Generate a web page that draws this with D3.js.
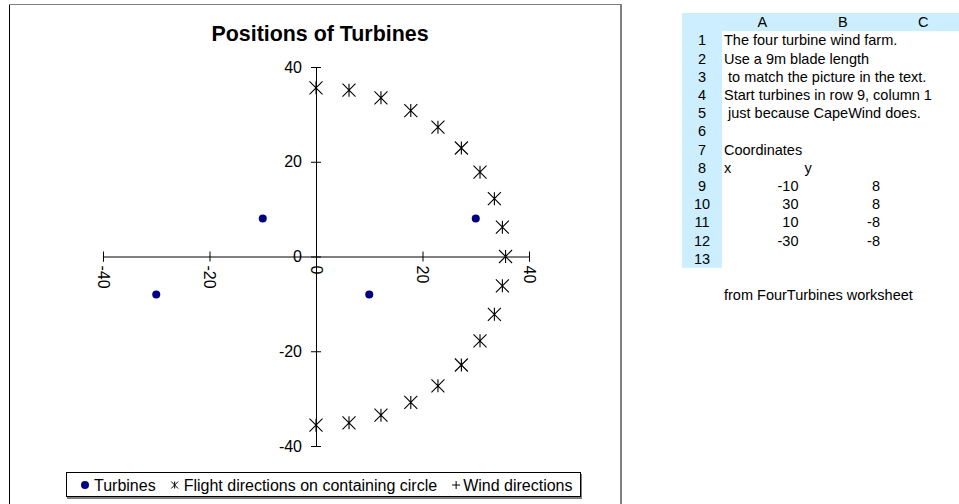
<!DOCTYPE html>
<html>
<head>
<meta charset="utf-8">
<script src="https://cdn.jsdelivr.net/npm/d3@7"></script>
<style>
  body { margin: 0; background: #fff; }
  svg { font-family: Arial, "Liberation Sans", sans-serif; }
</style>
</head>
<body>
<div id="chart"></div>
<script>
// Positions of Turbines - scatter + worksheet panel

// turbine coordinates (also shown in the worksheet table)
let turbX = [-10, 30, 10, -30];
let turbY = [8, 8, -8, -8];

// flight directions on the containing circle
let flightX = [0, 6.2, 12.2, 17.8, 22.9, 27.3, 30.8, 33.5, 35.0, 35.6, 35.0, 33.5, 30.8, 27.3, 22.9, 17.8, 12.2, 6.2, 0];
let flightY = [35.6, 35.1, 33.5, 30.8, 27.3, 22.9, 17.8, 12.2, 6.2, 0, -6.2, -12.2, -17.8, -22.9, -27.3, -30.8, -33.5, -35.1, -35.6];

// wind directions - nothing visible in the plot
let windX = [];
let windY = [];

let xTicks = [-40, -20, 0, 20, 40];
let yTicks = [-40, -20, 0, 20, 40];

let seriesNames = ["Turbines", "Flight directions on containing circle", "Wind directions"];

// worksheet text
let colLetters = ["A", "B", "C"];
let noteLines = ["The four turbine wind farm.", "Use a 9m blade length", " to match the picture in the text.",
    "Start turbines in row 9, column 1", " just because CapeWind does.", "", "Coordinates"];
let footNote = "from FourTurbines worksheet";

let W = 959, H = 504;
let navy = "#000080";
let fontFam = "Arial, 'Liberation Sans', sans-serif";

let svg = d3.select("#chart").append("svg")
    .attr("width", W)
    .attr("height", H);

// chart frame
svg.append("rect")
    .attr("x", 9.5).attr("y", 4.5)
    .attr("width", 611.5).attr("height", 520)
    .attr("fill", "#fff")
    .attr("stroke", "#000");
svg.append("line")
    .attr("x1", 9).attr("x2", 622).attr("y1", 4.5).attr("y2", 4.5)
    .attr("stroke", "#808080");

// title
svg.append("text")
    .attr("x", 320).attr("y", 41)
    .attr("text-anchor", "middle")
    .style("font-size", "21.4px")
    .style("font-weight", "bold")
    .text("Positions of Turbines");

// scales
let x = d3.scaleLinear().domain([-40, 40]).range([103, 529]);
let y = d3.scaleLinear().domain([-40, 40]).range([446, 67]);

// y axis (cross ticks)
let yAxis = d3.axisLeft(y)
    .tickValues(yTicks)
    .tickSizeOuter(0)
    .tickSize(5)
    .tickPadding(9)
    .tickFormat(d => String(d));

let gy = svg.append("g")
    .attr("transform", `translate(${x(0)},0)`)
    .call(yAxis)
    .attr("font-family", fontFam)
    .attr("font-size", 16);
gy.selectAll(".tick line").attr("x1", 5);
gy.selectAll("text").attr("fill", "#000");

// x axis, labels turned 90 degrees
let xAxis = d3.axisBottom(x)
    .tickValues(xTicks)
    .tickSizeOuter(0)
    .tickSize(5)
    .tickFormat(d => String(d));

let gx = svg.append("g")
    .attr("transform", `translate(0,${y(0)})`)
    .call(xAxis)
    .attr("font-family", fontFam)
    .attr("font-size", 16);
gx.selectAll(".tick line").attr("y1", -5);
gx.selectAll("text")
    .attr("fill", "#000")
    .attr("y", 0)
    .attr("x", 9)
    .attr("dy", "0.35em")
    .attr("transform", "rotate(90)")
    .style("text-anchor", "start");

svg.selectAll(".domain, .tick line").attr("stroke", "#000");

// marker shapes
let starPath = s => `M${-s},${-s}L${s},${s}M${-s},${s}L${s},${-s}M0,${-s}L0,${s}`;
let plusPath = s => `M${-s},0L${s},0M0,${-s}L0,${s}`;

// flight directions
svg.append("g").selectAll("path")
    .data(flightX.map((d, i) => [d, flightY[i]]))
    .join("path")
    .attr("transform", d => `translate(${x(d[0])},${y(d[1])})`)
    .attr("d", starPath(6.5))
    .attr("stroke", "#000")
    .attr("stroke-width", 1.1)
    .attr("fill", "none");

// wind directions
svg.append("g").selectAll("path")
    .data(windX.map((d, i) => [d, windY[i]]))
    .join("path")
    .attr("transform", d => `translate(${x(d[0])},${y(d[1])})`)
    .attr("d", plusPath(4))
    .attr("stroke", "#000");

// turbines
svg.append("g").selectAll("circle")
    .data(turbX.map((d, i) => [d, turbY[i]]))
    .join("circle")
    .attr("cx", d => x(d[0]))
    .attr("cy", d => y(d[1]))
    .attr("r", 4)
    .attr("fill", navy);

// legend
let leg = svg.append("g");
leg.append("rect")
    .attr("x", 67).attr("y", 474)
    .attr("width", 515).attr("height", 25)
    .attr("fill", "#808080");
leg.append("rect")
    .attr("x", 66.5).attr("y", 472.5)
    .attr("width", 514).attr("height", 24)
    .attr("fill", "#fff")
    .attr("stroke", "#000");

let lx = 85;
seriesNames.forEach((name, i) => {
    if (i === 0) {
        leg.append("circle").attr("cx", lx).attr("cy", 485).attr("r", 4).attr("fill", navy);
    } else if (i === 1) {
        leg.append("path").attr("transform", `translate(${lx},485)`).attr("d", starPath(3.5))
            .attr("stroke", "#000").attr("fill", "none");
    } else {
        leg.append("path").attr("transform", `translate(${lx},485)`).attr("d", plusPath(4))
            .attr("stroke", "#000").attr("fill", "none");
    }
    let t = leg.append("text")
        .attr("x", lx + (i === 2 ? 7 : 9))
        .attr("y", 490.5)
        .style("font-size", "16px")
        .text(name);
    lx = lx + (i === 2 ? 7 : 9) + t.node().getComputedTextLength() + 19;
});

// worksheet panel
let ws = svg.append("g").style("font-size", "14.5px");
let rowH = 18.2, sheetTop = 13, colW = 80.5, rowColX = 682, gridX = 722;

ws.append("rect")
    .attr("x", rowColX).attr("y", sheetTop)
    .attr("width", W - rowColX).attr("height", rowH)
    .attr("fill", "#cceeff");
ws.append("rect")
    .attr("x", rowColX).attr("y", sheetTop)
    .attr("width", gridX - rowColX).attr("height", rowH * 14)
    .attr("fill", "#cceeff");

let rowBase = r => sheetTop + rowH * r + rowH / 2 + 5;

colLetters.forEach((c, i) => {
    ws.append("text")
        .attr("x", gridX + colW * i + colW / 2)
        .attr("y", rowBase(0))
        .attr("text-anchor", "middle")
        .text(c);
});

d3.range(1, 14).forEach(r => {
    ws.append("text")
        .attr("x", 702)
        .attr("y", rowBase(r))
        .attr("text-anchor", "middle")
        .text(r);
});

noteLines.forEach((s, i) => {
    ws.append("text")
        .attr("x", gridX + 2)
        .attr("y", rowBase(i + 1))
        .style("white-space", "pre")
        .text(s);
});

ws.append("text").attr("x", gridX + 2).attr("y", rowBase(8)).text("x");
ws.append("text").attr("x", gridX + colW + 2).attr("y", rowBase(8)).text("y");

turbX.forEach((v, i) => {
    ws.append("text")
        .attr("x", gridX + colW - 4)
        .attr("y", rowBase(9 + i))
        .attr("text-anchor", "end")
        .text(v);
    ws.append("text")
        .attr("x", gridX + colW * 2 - 3)
        .attr("y", rowBase(9 + i))
        .attr("text-anchor", "end")
        .text(turbY[i]);
});

ws.append("text")
    .attr("x", gridX + 2)
    .attr("y", rowBase(15))
    .text(footNote);
</script>
</body>
</html>
